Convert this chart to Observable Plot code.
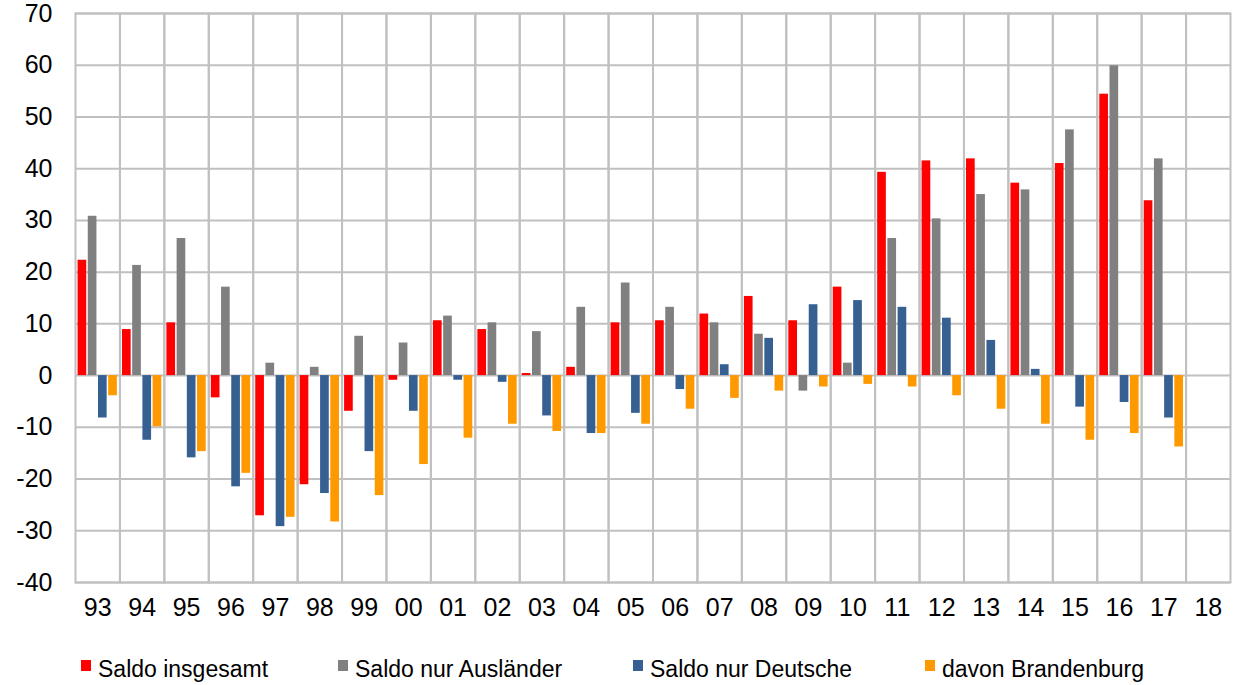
<!DOCTYPE html>
<html>
<head>
<meta charset="utf-8">
<script src="https://cdn.jsdelivr.net/npm/d3@7"></script>
<script src="https://cdn.jsdelivr.net/npm/@observablehq/plot@0.6"></script>
<style>
  html, body { margin: 0; padding: 0; background: #fff; }
  #wrap { position: relative; width: 1239px; height: 685px; font-family: "Liberation Sans", Arial, sans-serif; }
  #legend { position: absolute; top: 656px; left: 0; width: 1239px; height: 28px; font-size: 23px; color: #000; }
  .item { position: absolute; top: 0; white-space: nowrap; }
  .sw { position: absolute; top: 4px; left: 0; width: 10px; height: 11px; }
  .lab { position: absolute; left: 17px; top: 0; }
</style>
</head>
<body>
<div id="wrap"><div id="chart"></div><div id="legend"></div></div>
<script>
const years = ["93","94","95","96","97","98","99","00","01","02","03","04","05","06","07","08","09","10","11","12","13","14","15","16","17","18"];
const seriesNames = ["Saldo insgesamt", "Saldo nur Ausländer", "Saldo nur Deutsche", "davon Brandenburg"];
const seriesColors = ["#ff0000", "#808080", "#376092", "#ff9900"];
// 18 has no values yet (null)
const insgesamt   = [22.3, 8.9, 10.2, -4.3, -27.1, -21.1, -6.9, -0.9, 10.6, 8.9, 0.4, 1.6, 10.2, 10.6, 11.9, 15.3, 10.6, 17.1, 39.3, 41.5, 41.9, 37.2, 41.0, 54.4, 33.8, null];
const auslaender  = [30.8, 21.3, 26.5, 17.1, 2.4, 1.6, 7.6, 6.3, 11.5, 10.2, 8.5, 13.2, 17.9, 13.2, 10.2, 8.0, -3.0, 2.4, 26.5, 30.3, 35.0, 35.9, 47.5, 59.9, 41.9, null];
const deutsche    = [-8.2, -12.5, -15.9, -21.5, -29.2, -22.8, -14.7, -6.9, -0.9, -1.3, -7.8, -11.2, -7.3, -2.7, 2.1, 7.2, 13.7, 14.5, 13.2, 11.1, 6.8, 1.2, -6.1, -5.2, -8.2, null];
const brandenburg = [-3.9, -9.9, -14.7, -18.9, -27.4, -28.3, -23.2, -17.2, -12.1, -9.4, -10.8, -11.2, -9.4, -6.5, -4.4, -3.0, -2.2, -1.7, -2.2, -3.9, -6.5, -9.4, -12.5, -11.2, -13.8, null];
const yTicks = [-40, -30, -20, -10, 0, 10, 20, 30, 40, 50, 60, 70];

const allSeries = [insgesamt, auslaender, deutsche, brandenburg];
const table = [];
allSeries.forEach((arr, si) => arr.forEach((v, i) => table.push({year: years[i], series: seriesNames[si], value: v})));

const plot = Plot.plot({
  width: 1239,
  height: 630,
  marginLeft: 75,
  marginRight: 9,
  marginTop: 13,
  marginBottom: 48,
  style: {fontFamily: "Liberation Sans, Arial, sans-serif", fontSize: "25px", color: "#000", background: "#fff"},
  facet: {data: table, x: "year"},
  fx: {domain: years, padding: 0, round: false, axis: "bottom", label: null, tickSize: 0, tickPadding: 16},
  x: {domain: seriesNames, axis: null, round: false, paddingInner: 0.15, paddingOuter: 0.25},
  y: {domain: [-40, 70], ticks: yTicks, tickSize: 0, tickPadding: 23, label: null, tickFormat: d => String(d)},
  color: {domain: seriesNames, range: seriesColors},
  marks: [
    Plot.ruleY(yTicks, {stroke: "#c0c0c0", strokeWidth: 2}),
    Plot.frame({stroke: "#c0c0c0", strokeWidth: 2}),
    Plot.barY(table, {x: "series", y: "value", fill: "series", filter: d => d.value != null})
  ]
});
document.getElementById("chart").appendChild(plot);

const legend = document.getElementById("legend");
const legendLeft = [81, 338, 633, 925];
seriesNames.forEach((name, i) => {
  const it = document.createElement("div");
  it.className = "item";
  it.style.left = legendLeft[i] + "px";
  it.innerHTML = `<span class="sw" style="background:${seriesColors[i]}"></span><span class="lab">${name}</span>`;
  legend.appendChild(it);
});
</script>
</body>
</html>
